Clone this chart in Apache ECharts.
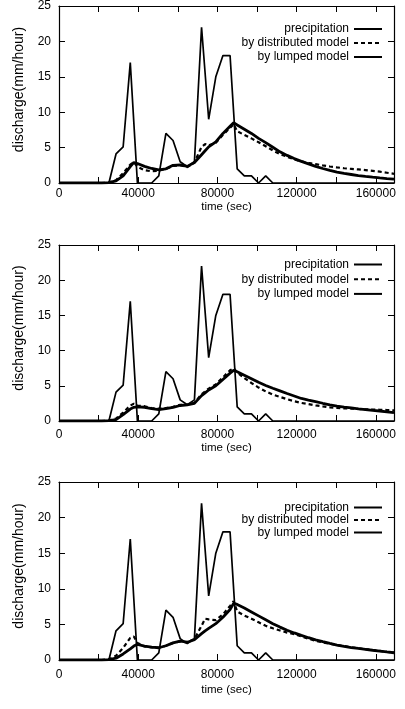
<!DOCTYPE html>
<html>
<head>
<meta charset="utf-8">
<script src="https://cdn.jsdelivr.net/npm/echarts@6/dist/echarts.min.js"></script>
<style>html,body{margin:0;padding:0;background:#fff}#c{width:405px;height:709px}</style>
</head>
<body>
<div id="c"></div>
<script>
// ---- data ----
const X_TICK_LABELS = [0, 40000, 80000, 120000, 160000];
const Y_TICK_LABELS = [0, 5, 10, 15, 20, 25];
const SERIES_NAMES = ['precipitation', 'by distributed model', 'by lumped model'];

// precipitation, hourly (hours since start)
const PRECIP_HOURS = [0,1,2,3,4,5,6,7,8,9,10,11,12,13,14,15,16,17,18,19,20,21,22,23,24,25,26,27,28,29,30,31,32,33,34,35,36,37,38,39,40,41,42,43,44,45,46,47];
const precipitation = [0,0,0,0,0,0,0,0,4.1,5.1,17,0,0,0,1,7,6,3,2.3,3,22,9,15,18,18,2,1,1,0,1,0,0,0,0,0,0,0,0,0,0,0,0,0,0,0,0,0,0];

// discharge sample times (hours)
const DISCHARGE_HOURS = [0,1,2,3,4,5,6,7,8,9,10,10.5,11,12,13,14,15,16,17,18,19,20,20.5,21,22,23,24,24.5,25,26,27,28,29,30,31,32,33,34,35,36,37,38,39,40,41,42,43,44,45,46,47];

// panel 1
const distributed1 = [0,0,0,0,0,0,0,0.05,0.4,1.4,2.6,2.95,2.3,1.8,1.65,1.75,2.0,2.4,2.5,2.25,2.9,5.1,5.5,5.3,5.7,6.8,7.8,8.3,7.3,6.8,6.3,5.75,5.2,4.6,4.1,3.7,3.35,3.05,2.85,2.67,2.48,2.33,2.2,2.08,2.0,1.92,1.83,1.72,1.6,1.45,1.3];
const lumped1 = [0,0,0,0,0,0,0,0.05,0.3,1.0,2.3,2.9,2.75,2.35,2.05,1.85,2.0,2.5,2.55,2.35,2.9,4.0,4.55,5.1,5.8,7.0,8.0,8.5,8.2,7.6,7.0,6.3,5.7,5.05,4.4,3.9,3.45,3.05,2.7,2.35,2.05,1.78,1.55,1.35,1.2,1.05,0.93,0.82,0.72,0.63,0.56];
// panel 2
const distributed2 = [0,0,0,0,0,0,0,0.05,0.35,1.2,2.2,2.45,2.2,2.1,1.85,1.75,1.85,2.0,2.3,2.3,2.6,3.8,4.2,4.6,5.2,6.2,7.2,7.5,6.9,6.1,5.4,4.75,4.2,3.75,3.42,3.1,2.8,2.57,2.4,2.22,2.07,1.94,1.86,1.8,1.76,1.71,1.67,1.63,1.6,1.56,1.52];
const lumped2 = [0,0,0,0,0,0,0,0.05,0.2,0.9,1.7,1.95,2.0,1.95,1.75,1.62,1.75,1.95,2.2,2.3,2.5,3.6,4.0,4.4,5.0,5.9,6.8,7.2,7.0,6.5,6.0,5.5,5.05,4.65,4.28,3.9,3.55,3.2,2.97,2.75,2.52,2.3,2.12,1.97,1.85,1.73,1.63,1.52,1.42,1.3,1.18];
// panel 3
const distributed3 = [0,0,0,0,0,0,0,0.1,0.6,1.7,3.1,3.3,2.4,1.9,1.77,1.72,2.0,2.4,2.6,2.45,2.95,4.8,5.8,5.7,5.6,6.4,7.6,8.25,6.8,6.25,5.8,5.3,4.8,4.45,4.15,3.85,3.63,3.3,2.98,2.7,2.48,2.28,2.1,1.95,1.8,1.65,1.52,1.4,1.28,1.15,1.05];
const lumped3 = [0,0,0,0,0,0,0,0.05,0.25,0.85,1.55,1.95,2.2,1.96,1.8,1.72,2.0,2.4,2.65,2.5,2.85,3.7,4.1,4.45,5.1,6.0,7.1,7.95,7.8,7.3,6.75,6.2,5.65,5.1,4.62,4.17,3.8,3.45,3.13,2.83,2.57,2.32,2.1,1.9,1.75,1.62,1.5,1.37,1.25,1.13,1.02];

const X_MAX = 169200;   // 47 hours in seconds
const SEC_PER_HOUR = 3600;

// ---- build ----
const FONT = "'Liberation Sans', Arial, Helvetica, sans-serif";
const panels = [
  {dist: distributed1, lump: lumped1, top: 6,   height: 177, lblMargin: 5,  nameGap: 16, legTop: 23,  legGap: 2},
  {dist: distributed2, lump: lumped2, top: 245, height: 176, lblMargin: 8,  nameGap: 21, legTop: 258.5, legGap: 2.7},
  {dist: distributed3, lump: lumped3, top: 482, height: 178, lblMargin: 9,  nameGap: 24, legTop: 501.5, legGap: 0.5}
];

function pairs(hours, vals) { return hours.map((h, i) => [h * SEC_PER_HOUR, vals[i]]); }
function mkTick() { return {show: true, inside: true, length: 6, lineStyle: {color: '#000', width: 1}}; }
function mkLine() { return {show: true, onZero: false, lineStyle: {color: '#000', width: 1.2}}; }

const grid = [], xAxis = [], yAxis = [], series = [], legend = [];
panels.forEach((p, i) => {
  grid.push({left: 59, right: 11, top: p.top, height: p.height, containLabel: false, show: false});
  xAxis.push({
    gridIndex: i, type: 'value', position: 'bottom', min: 0, max: X_MAX, interval: 20000,
    axisLine: mkLine(), axisTick: mkTick(), splitLine: {show: false},
    axisLabel: {color: '#000', fontSize: 12, fontFamily: FONT, margin: p.lblMargin, showMaxLabel: false,
      formatter: v => X_TICK_LABELS.indexOf(v) >= 0 ? String(v) : ''},
    name: 'time (sec)', nameLocation: 'middle', nameGap: p.nameGap,
    nameTextStyle: {color: '#000', fontSize: 11.5, fontFamily: FONT}
  });
  xAxis.push({
    gridIndex: i, type: 'value', position: 'top', min: 0, max: X_MAX, interval: 20000,
    axisLine: mkLine(), axisTick: mkTick(), splitLine: {show: false}, axisLabel: {show: false}
  });
  yAxis.push({
    gridIndex: i, type: 'value', position: 'left', min: 0, max: 25, interval: 5,
    axisLine: mkLine(), axisTick: mkTick(), splitLine: {show: false},
    axisLabel: {color: '#000', fontSize: 12, fontFamily: FONT, margin: 8,
      formatter: v => Y_TICK_LABELS.indexOf(v) >= 0 ? String(v) : ''},
    name: 'discharge(mm/hour)', nameLocation: 'middle', nameGap: 33, nameRotate: 90,
    nameTextStyle: {color: '#000', fontSize: 14, fontFamily: FONT, padding: [0, 0, 0, 10]}
  });
  yAxis.push({
    gridIndex: i, type: 'value', position: 'right', min: 0, max: 25, interval: 5,
    axisLine: mkLine(), axisTick: mkTick(), splitLine: {show: false}, axisLabel: {show: false}
  });
  const xi = i * 2, yi = i * 2;
  series.push({
    name: SERIES_NAMES[0], type: 'line', xAxisIndex: xi, yAxisIndex: yi, showSymbol: false, symbol: 'none',
    data: pairs(PRECIP_HOURS, precipitation), lineStyle: {color: '#000', width: 1.7}, itemStyle: {color: '#000'}, z: 2
  });
  series.push({
    name: SERIES_NAMES[2], type: 'line', xAxisIndex: xi, yAxisIndex: yi, showSymbol: false, symbol: 'none',
    data: pairs(DISCHARGE_HOURS, p.lump), lineStyle: {color: '#000', width: 2.8}, itemStyle: {color: '#000'}, z: 3
  });
  series.push({
    name: SERIES_NAMES[1], type: 'line', xAxisIndex: xi, yAxisIndex: yi, showSymbol: false, symbol: 'none',
    data: pairs(DISCHARGE_HOURS, p.dist), lineStyle: {color: '#000', width: 2.2, type: [4, 3]}, itemStyle: {color: '#000'}, z: 4
  });
  // invisible helper so the mirrored top/right border axes are rendered
  series.push({type: 'line', xAxisIndex: xi + 1, yAxisIndex: yi + 1, data: [[0, 0]], silent: true, symbol: 'none', lineStyle: {opacity: 0}});
  legend.push({
    data: SERIES_NAMES, orient: 'vertical', align: 'right', right: 22, top: p.legTop, padding: 0,
    itemWidth: 28, itemHeight: 12, itemGap: p.legGap, selectedMode: false,
    itemStyle: {opacity: 0, borderWidth: 0},
    textStyle: {color: '#000', fontSize: 12, fontFamily: FONT}
  });
});

const chart = echarts.init(document.getElementById('c'), null, {renderer: 'canvas'});
chart.setOption({animation: false, backgroundColor: '#fff', grid, xAxis, yAxis, series, legend});
</script>
</body>
</html>
